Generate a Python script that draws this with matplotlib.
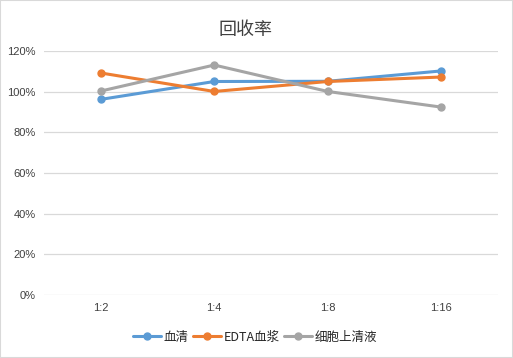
import matplotlib
matplotlib.use("Agg")
import matplotlib.pyplot as plt
from matplotlib.ticker import FuncFormatter
from matplotlib.patches import Rectangle

plt.rcParams['font.family'] = ['Noto Sans CJK SC', 'DejaVu Sans']

categories = ["1:2", "1:4", "1:8", "1:16"]
series_names = ["血清", "EDTA血浆", "细胞上清液"]
serum = [0.962, 1.050, 1.051, 1.102]
edta = [1.092, 1.001, 1.050, 1.072]
supernatant = [1.003, 1.131, 1.001, 0.924]
colors = ["#5B9BD5", "#ED7D31", "#A5A5A5"]

fig = plt.figure(figsize=(5.13, 3.58), dpi=100)
fig.patches.append(Rectangle((0, 0), 1, 1, transform=fig.transFigure, fill=False,
                             edgecolor="#D9D9D9", linewidth=1.5))
ax = fig.add_axes([44/513, 1-295/358, 454/513, (295-51)/358])

x = range(len(categories))
for vals, name, c in zip([serum, edta, supernatant], series_names, colors):
    ax.plot(x, vals, color=c, linewidth=2.2, marker='o', markersize=5, label=name,
            solid_capstyle='round')

ax.set_xlim(-0.5, len(categories) - 0.5)
ax.set_ylim(0, 1.2)
ax.set_yticks([0, 0.2, 0.4, 0.6, 0.8, 1.0, 1.2])
ax.yaxis.set_major_formatter(FuncFormatter(lambda v, p: f"{v*100:.0f}%"))
ax.set_xticks(list(x))
ax.set_xticklabels(categories)
ax.grid(axis='y', color="#D9D9D9", linewidth=0.9)
ax.set_axisbelow(True)
for s in ax.spines.values():
    s.set_visible(False)
ax.tick_params(length=0, labelsize=8, labelcolor="#404040", pad=6)
for lbl in ax.get_xticklabels() + ax.get_yticklabels():
    lbl.set_family(['Liberation Sans', 'DejaVu Sans'])

fig.text(246/513, 1-30/358, "回收率", ha='center', va='center', fontsize=13,
         color="#404040", fontweight='light')

fig.legend(loc='center', bbox_to_anchor=(0.497, 1-337/358), ncol=3, frameon=False,
           fontsize=9, handlelength=2.3, handletextpad=0.2, columnspacing=0.3,
           labelcolor="#262626")

fig.savefig("out.png", dpi=100)
